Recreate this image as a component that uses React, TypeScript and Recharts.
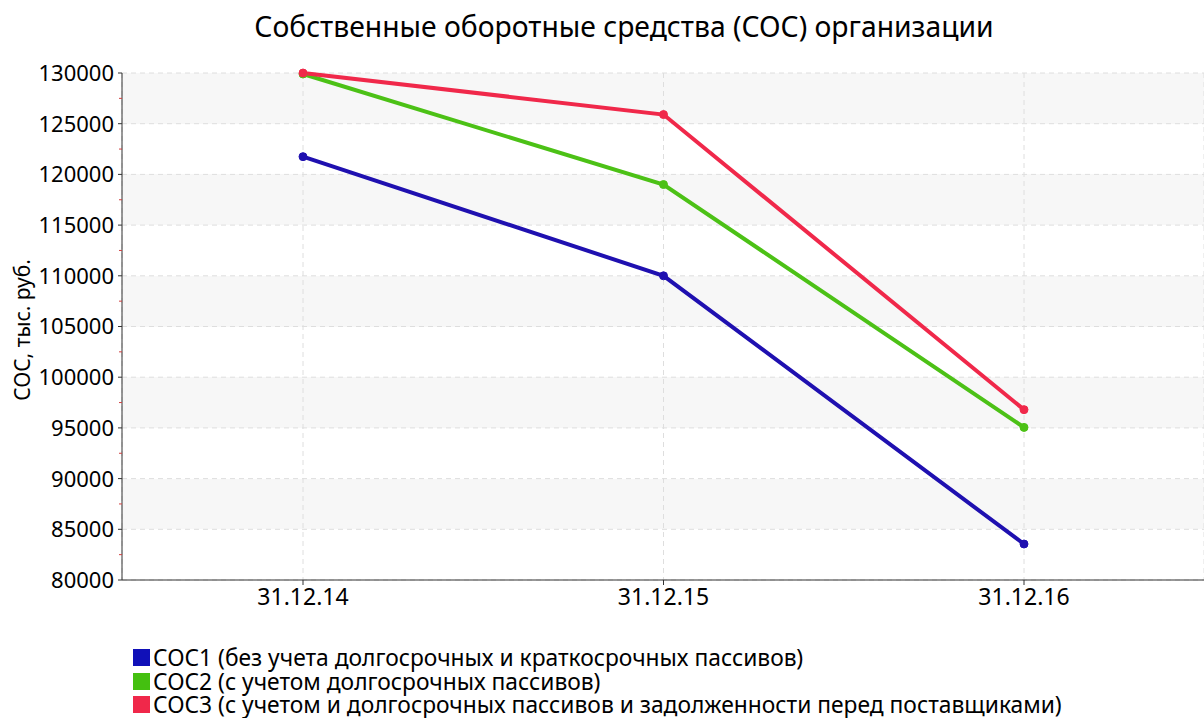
import { LineChart, Line, XAxis, YAxis, CartesianGrid } from "recharts";

const FONT = "'Noto Sans', 'Open Sans', sans-serif";

const dates = ["31.12.14", "31.12.15", "31.12.16"];
const coc1 = [121750, 110000, 83550];
const coc2 = [129900, 119000, 95050];
const coc3 = [130000, 125900, 96800];

const majorTicks = [80000, 85000, 90000, 95000, 100000, 105000, 110000, 115000, 120000, 125000, 130000];
const allTicks = [
  80000, 82500, 85000, 87500, 90000, 92500, 95000, 97500, 100000, 102500, 105000,
  107500, 110000, 112500, 115000, 117500, 120000, 122500, 125000, 127500, 130000,
];

const seriesNames = [
  "СОС1 (без учета долгосрочных и краткосрочных пассивов)",
  "СОС2 (с учетом долгосрочных пассивов)",
  "СОС3 (с учетом и долгосрочных пассивов и задолженности перед поставщиками)",
];
const lineColors = ["#1f10b0", "#4cc116", "#f0284a"];
const legendColors = ["#1010b8", "#44c010", "#f0284a"];

const data = dates.map((d, i) => ({
  date: d,
  coc1: coc1[i],
  coc2: coc2[i],
  coc3: coc3[i],
}));

const YTick = (props: any) => {
  const { x, y, payload } = props;
  const major = majorTicks.includes(payload.value);
  return (
    <g>
      {major ? (
        <>
          <line x1={x + 4} x2={x + 8} y1={y} y2={y} stroke="#333" strokeWidth={1} />
          <text x={x} y={y} dy="0.36em" textAnchor="end" fontSize={22} fill="#000" fontFamily={FONT}>
            {payload.value}
          </text>
        </>
      ) : (
        <line x1={x + 5} x2={x + 8} y1={y} y2={y} stroke="#d04040" strokeWidth={1} />
      )}
    </g>
  );
};

const YLabel = () => (
  <text
    x={22}
    y={330}
    transform="rotate(-90 22 330)"
    textAnchor="middle"
    dominantBaseline="central"
    fontSize={21}
    fill="#000"
    fontFamily={FONT}
  >
    СОС, тыс. руб.
  </text>
);

export default function App() {
  const keys = ["coc1", "coc2", "coc3"];
  return (
    <div style={{ position: "absolute", left: 0, top: 0, width: 1204, height: 718, background: "#fff", fontFamily: FONT }}>
      <div
        style={{
          position: "absolute",
          top: 8,
          left: 0,
          width: 1248,
          textAlign: "center",
          fontSize: 28.3,
          color: "#000",
          lineHeight: "36px",
        }}
      >
        Собственные оборотные средства (СОС) организации
      </div>
      <LineChart width={1204} height={718} data={data} margin={{ top: 73, right: 0, bottom: 108, left: 0 }}>
        <CartesianGrid
          stroke="#dedede"
          strokeDasharray="5 4"
          horizontalValues={majorTicks}
          horizontalFill={["#f7f7f7", "#ffffff"]}
          fillOpacity={1}
        />
        <XAxis
          dataKey="date"
          padding={{ left: 181, right: 180 }}
          height={30}
          tickSize={5}
          tickMargin={4}
          stroke="#333"
          tick={{ fontSize: 23, fill: "#000", fontFamily: FONT }}
        />
        <YAxis
          width={122}
          domain={[80000, 130000]}
          ticks={allTicks}
          interval={0}
          tickSize={4}
          tickMargin={4}
          tickLine={false}
          stroke="#333"
          tick={<YTick />}
          label={{ content: <YLabel /> }}
        />
        {keys.map((k, i) => (
          <Line
            key={k}
            type="linear"
            dataKey={k}
            name={seriesNames[i]}
            stroke={lineColors[i]}
            strokeWidth={4}
            dot={{ r: 4, fill: lineColors[i], stroke: lineColors[i], strokeWidth: 1 }}
            isAnimationActive={false}
          />
        ))}
      </LineChart>
      <div style={{ position: "absolute", left: 133, top: 646 }}>
        {seriesNames.map((n, i) => (
          <div key={n} style={{ display: "flex", alignItems: "center", height: 23.5, fontSize: 22.8, color: "#000" }}>
            <span style={{ width: 17, height: 17, background: legendColors[i], display: "inline-block", marginRight: 3, flexShrink: 0 }} />
            <span style={{ lineHeight: "23px", whiteSpace: "nowrap" }}>{n}</span>
          </div>
        ))}
      </div>
    </div>
  );
}
